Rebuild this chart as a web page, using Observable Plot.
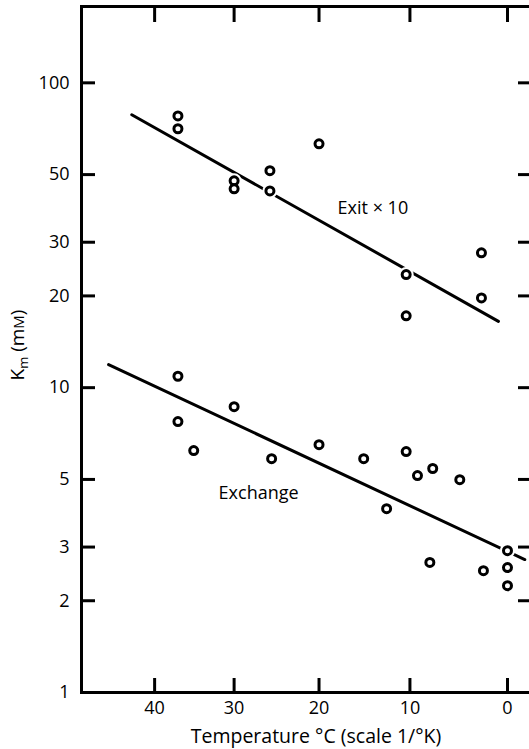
<!DOCTYPE html>
<html><head><meta charset="utf-8">
<script src="https://cdn.jsdelivr.net/npm/d3@7"></script>
<script src="https://cdn.jsdelivr.net/npm/@observablehq/plot@0.6"></script>
<style>body{margin:0;background:#fff} svg{display:block}</style>
</head><body><div id="chart"></div>
<script>
// Data (temperature in °C, Km in mM; exit values shown ×10)
const exitTemp = [37, 37, 30, 30, 25.7, 25.7, 20, 10.4, 10.4, 2.6, 2.6];
const exitKm   = [77.9, 70.7, 47.7, 44.9, 51.5, 44.2, 63.1, 23.5, 17.2, 27.7, 19.7];
const exchTemp = [37, 37, 35, 30, 25.5, 20, 15, 12.5, 10.4, 9.2, 7.9, 7.6, 4.8, 2.4, 0, 0, 0];
const exchKm   = [10.9, 7.74, 6.22, 8.66, 5.85, 6.5, 5.85, 4.01, 6.17, 5.15, 2.67, 5.43, 4.99, 2.51, 2.92, 2.57, 2.24];
const exitFitTemp = [43, 0.9];
const exitFitKm   = [78.6, 16.5];
const exchFitTemp = [46.1, -1.7];
const exchFitKm   = [11.9, 2.73];
const seriesLabels = ["Exit \u00d7 10", "Exchange"];
const labelTemp = [17.9, 31.9];
const labelKm   = [38.9, 4.49];
const xTickTemps = [40, 30, 20, 10, 0];
const yTicks = [1, 2, 3, 5, 10, 20, 30, 50, 100];
const xLabel = "Temperature \u00b0C (scale 1/\u00b0K)";

const invK = t => 1 / (t + 273.15);
const fromInvK = v => String(Math.round(1 / v - 273.15));
const toRows = (T, K) => T.map((t, i) => ({x: invK(t), y: K[i]}));
const exitPts = toRows(exitTemp, exitKm);
const exchPts = toRows(exchTemp, exchKm);
const exitFit = toRows(exitFitTemp, exitFitKm);
const exchFit = toRows(exchFitTemp, exchFitKm);
const labels = seriesLabels.map((s, i) => ({x: invK(labelTemp[i]), y: labelKm[i], s}));
const xTicks = xTickTemps.map(invK);
const allPts = exitPts.concat(exchPts);

const font = "'Open Sans', Lato, sans-serif";
const chart = Plot.plot({
  width: 529, height: 749,
  marginLeft: 81, marginRight: -3, marginTop: 6, marginBottom: 57,
  style: {fontFamily: font, fontSize: "18px", fontWeight: 500, color: "#000", background: "#fff"},
  x: {type: "linear", domain: [invK(49.8), invK(-2.45)]},
  y: {type: "log", domain: [1, 178]},
  marks: [
    Plot.frame({stroke: "#000", strokeWidth: 3}),
    // tick marks (inward)
    Plot.axisX(xTicks, {anchor: "bottom", tickSize: 14, dy: -14, fill: "none", strokeWidth: 3, label: null}),
    Plot.axisX(xTicks, {anchor: "top", tickSize: 15, dy: 15, fill: "none", strokeWidth: 3, label: null}),
    Plot.axisY(yTicks, {anchor: "left", tickSize: 14, dx: 14, fill: "none", strokeWidth: 3, label: null}),
    Plot.axisY(yTicks, {anchor: "right", tickSize: 15, dx: -15, fill: "none", strokeWidth: 3, label: null}),
    // tick labels
    Plot.axisX(xTicks, {anchor: "bottom", tickSize: 0, tickPadding: 9, tickFormat: fromInvK, stroke: "none", label: null}),
    Plot.axisY(yTicks, {anchor: "left", tickSize: 0, tickPadding: 12, tickFormat: d => String(d), stroke: "none", label: null}),
    // fitted lines
    Plot.line(exitFit, {x: "x", y: "y", stroke: "#000", strokeWidth: 3}),
    Plot.line(exchFit, {x: "x", y: "y", stroke: "#000", strokeWidth: 3}),
    // points with white halo
    Plot.dot(allPts, {x: "x", y: "y", r: 4, fill: "#fff", stroke: "#fff", strokeWidth: 7}),
    Plot.dot(allPts, {x: "x", y: "y", r: 4, fill: "#fff", stroke: "#000", strokeWidth: 3}),
    // series labels
    Plot.text(labels, {x: "x", y: "y", text: "s", textAnchor: "start", fontSize: 18, fill: "#000"}),
    // x label
    Plot.text([xLabel], {frameAnchor: "bottom", dy: 44, dx: 9, lineAnchor: "middle", text: d => d, fontSize: 19.5, fill: "#000"})
  ]
});
document.getElementById("chart").appendChild(chart);

// y-axis label with subscript
const svg = d3.select(chart);
const yl = svg.append("text")
  .attr("transform", "translate(24,345) rotate(-90)")
  .attr("text-anchor", "middle")
  .attr("font-family", font)
  .attr("font-weight", 500)
  .attr("font-size", 19)
  .attr("fill", "#000");
yl.append("tspan").text("K");
yl.append("tspan").attr("font-size", 13).attr("dy", 4).text("m");
yl.append("tspan").attr("dy", -4).text(" (m");
yl.append("tspan").attr("font-size", 15).text("M");
yl.append("tspan").text(")");
</script>
</body></html>
